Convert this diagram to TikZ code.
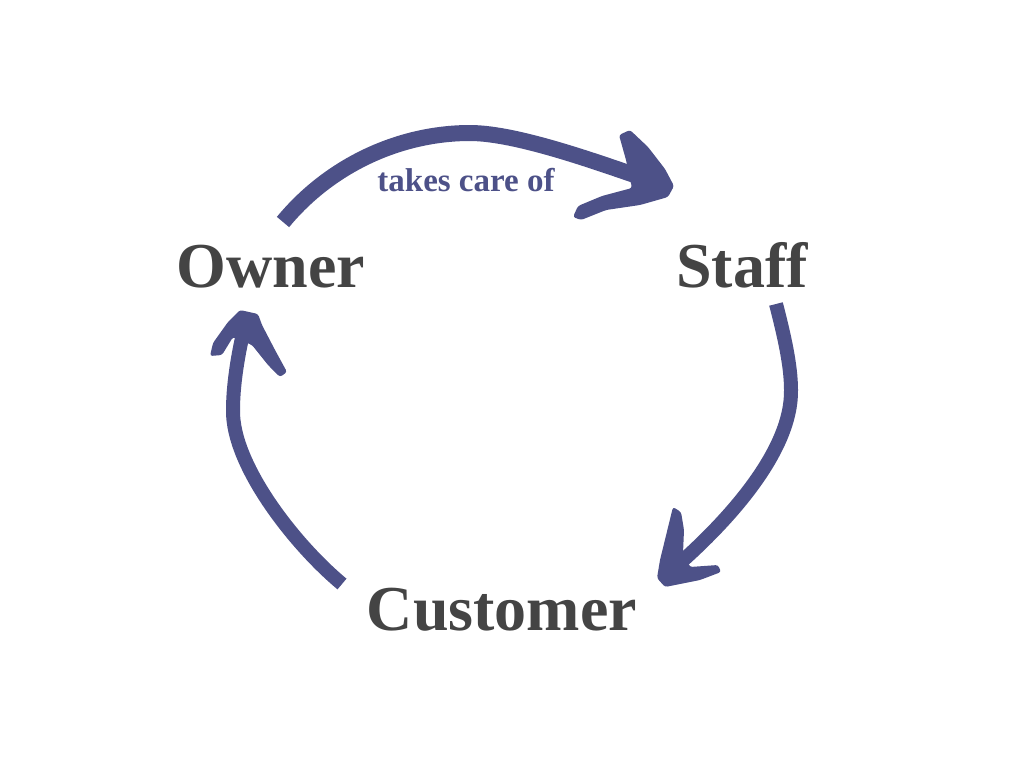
\documentclass[tikz,border=0pt]{standalone}
\usepackage{fontspec}
\setmainfont{Liberation Serif}
\definecolor{ink}{HTML}{4D5188}
\definecolor{txt}{HTML}{444444}
\begin{document}
\begin{tikzpicture}[x=1pt,y=-1pt,
  word/.style={font=\bfseries\fontsize{64}{64}\selectfont, text=txt, inner sep=0pt, anchor=base},
  note/.style={font=\bfseries\fontsize{33}{33}\selectfont, text=ink, inner sep=0pt, anchor=base},
  shaft/.style={draw=ink, line width=14pt, line cap=butt},
  head/.style={fill=ink, rounded corners=2.5pt}]
\useasboundingbox (0,0) rectangle (1024,768);
\fill[white] (0,0) rectangle (1024,768);
% labels
\node[word] (owner) at (271,287) {Owner};
\node[word] (staff) at (742,287) {Staff};
\node[word] (customer) at (502,630) {Customer};
\node[note] (care) at (466,191) {takes care of};
% top arrow: Owner -> Staff
\coordinate (a1s) at (283,222);
\coordinate (a1m) at (470,133);
\coordinate (a1t) at (655,182);
\draw[shaft, line width=16pt] (a1s) .. controls (330,165) and (400,133) .. (a1m)
  .. controls (520,133) and (610,167) .. (a1t);
\fill[head] (619,135) -- (630,130) -- (648,147) -- (665,169) -- (674,186)
  -- (668,197) -- (640,205) -- (606,210) -- (581,220) -- (573,217)
  -- (578,206) -- (602,196) -- (632,188) -- (626,160) -- cycle;
% right arrow: Staff -> Customer
\coordinate (a2s) at (776,304);
\coordinate (a2m) at (791,390);
\coordinate (a2t) at (672,570);
\draw[shaft] (a2s) .. controls (784,335) and (791,365) .. (a2m)
  .. controls (792,450) and (730,520) .. (a2t);
\fill[head] (673,507) -- (681,512) -- (684,530) -- (683,553) -- (690,567)
  -- (718,565) -- (721,572) -- (700,580) -- (665,587) -- (657,578)
  -- (660,560) -- cycle;
% left arrow: Customer -> Owner
\coordinate (a3s) at (342,584);
\coordinate (a3m) at (233,410);
\coordinate (a3t) at (245,325);
\draw[shaft] (a3s) .. controls (295,545) and (232,465) .. (a3m)
  .. controls (233,380) and (240,345) .. (a3t);
\fill[head] (240,310) -- (258,314) -- (262,325) -- (275,350) -- (287,372)
  -- (280,377) -- (268,365) -- (252,345) -- (233,337) -- (222,355)
  -- (210,356) -- (213,343) -- (228,322) -- cycle;
\end{tikzpicture}
\end{document}
